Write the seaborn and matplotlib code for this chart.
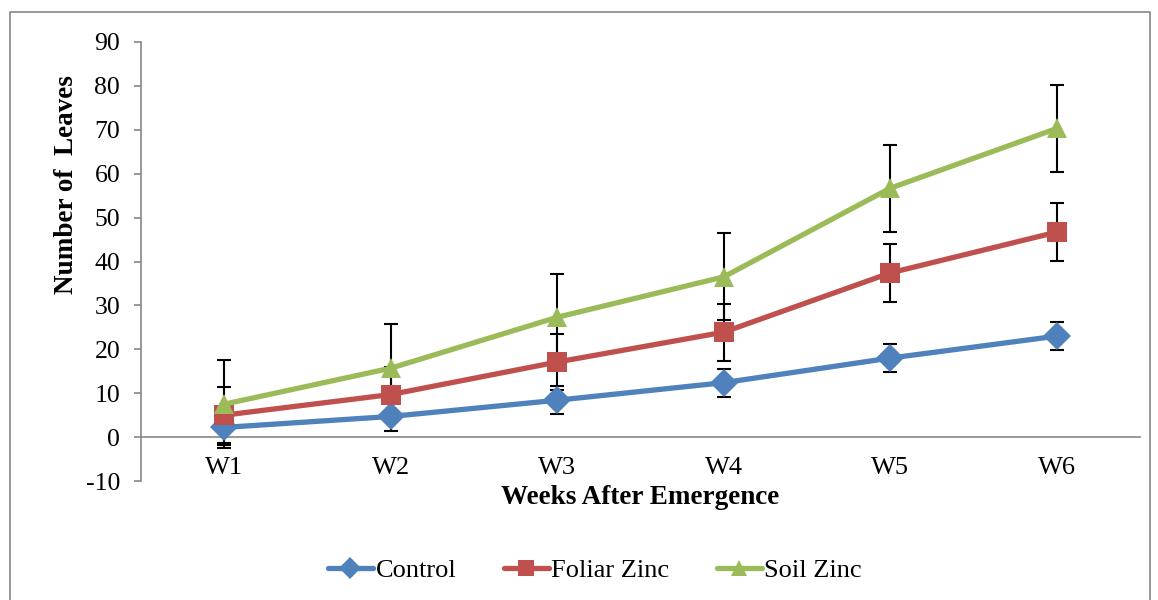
import numpy as np
import pandas as pd
import matplotlib
matplotlib.use("Agg")
import matplotlib.pyplot as plt
from matplotlib.patches import Rectangle
import seaborn as sns

# --- data ---
weeks = ["W1", "W2", "W3", "W4", "W5", "W6"]
control = [2.2, 4.7, 8.4, 12.4, 18.0, 23.0]
foliar = [5.0, 9.7, 17.1, 23.9, 37.4, 46.7]
soil = [7.5, 15.7, 27.3, 36.5, 56.7, 70.3]
control_err = [3.9, 3.2, 3.2, 3.2, 3.2, 3.2]
foliar_err = [6.4, 6.3, 6.4, 6.5, 6.6, 6.6]
soil_err = [10.0, 10.0, 9.9, 9.9, 9.9, 9.8]

series_names = ["Control", "Foliar Zinc", "Soil Zinc"]
colors = ["#4F81BD", "#C0504D", "#9BBB59"]
marker_map = {"Control": "D", "Foliar Zinc": "s", "Soil Zinc": "^"}

df = pd.DataFrame({
    "week": np.tile(np.arange(len(weeks)), 3),
    "value": control + foliar + soil,
    "err": control_err + foliar_err + soil_err,
    "series": np.repeat(series_names, len(weeks)),
})

sns.set_style("white")
plt.rcParams["font.family"] = ["Liberation Serif", "DejaVu Serif"]
plt.rcParams["axes.unicode_minus"] = False
plt.rcParams["text.color"] = "black"
plt.rcParams["axes.labelcolor"] = "black"
plt.rcParams["xtick.color"] = "black"
plt.rcParams["ytick.color"] = "black"

GRAY = "#868686"
fig = plt.figure(figsize=(11.58, 6.0), dpi=100)
ax = fig.add_axes([141 / 1158, 1 - 481 / 600, (1140 - 141) / 1158, (481 - 42) / 600])

# error bars (under the lines)
for name in series_names:
    sub = df[df["series"] == name]
    ax.errorbar(sub["week"], sub["value"], yerr=sub["err"], fmt="none",
                ecolor="black", elinewidth=1.5, capsize=4.7, capthick=1.5, zorder=2)

sns.lineplot(data=df, x="week", y="value", hue="series", style="series",
             hue_order=series_names, style_order=series_names,
             palette=dict(zip(series_names, colors)), markers=marker_map,
             dashes=False, linewidth=3.8, markersize=14, markeredgewidth=0,
             ax=ax, legend=False, zorder=3)

ax.set_xlim(-0.5, len(weeks) - 0.5)
ax.set_ylim(-10, 90)
ax.set_yticks(np.arange(-10, 91, 10))

# category labels and boundary ticks
ax.set_xticks(np.arange(len(weeks)))
ax.set_xticklabels(weeks)
ax.set_xticks(np.arange(0.5, len(weeks) - 0.5, 1.0), minor=True)
ax.tick_params(axis="x", which="major", length=0, pad=14, labelsize=19)
ax.tick_params(axis="x", which="minor", length=5, direction="out",
               color=GRAY, width=1.2)
ax.tick_params(axis="y", length=5, direction="out", color=GRAY,
               width=1.2, labelsize=18.5, pad=10, left=True)

for side in ["top", "right"]:
    ax.spines[side].set_visible(False)
ax.spines["bottom"].set_position(("data", 0))
for side in ["left", "bottom"]:
    ax.spines[side].set_color(GRAY)
    ax.spines[side].set_linewidth(1.2)

ax.set_xlabel("")
ax.set_ylabel("Number of  Leaves", fontsize=19.5, fontweight="bold")
ax.yaxis.set_label_coords((79 - 141) / 999, (481 - 185) / 439)
fig.text(640 / 1158, 1 - 498 / 600, "Weeks After Emergence", ha="center",
         va="center", fontsize=19.5, fontweight="bold")

# legend at the bottom
handles = [plt.Line2D([], [], color=c, marker=marker_map[n], linewidth=3.8,
                      markersize=11, markeredgewidth=0)
           for n, c in zip(series_names, colors)]
fig.legend(handles, series_names, loc="center",
           bbox_to_anchor=(595 / 1158, 1 - 570 / 600), ncol=3, frameon=False,
           fontsize=19, handlelength=1.7, handletextpad=0.1, columnspacing=1.8)

# chart-area border
fig.patches.append(Rectangle((10 / 1158, -0.02), (1150 - 10) / 1158, 1.02 - 12 / 600,
                             transform=fig.transFigure, fill=False,
                             edgecolor=GRAY, linewidth=1.2))

fig.savefig("out.png", dpi=100)
plt.close(fig)
